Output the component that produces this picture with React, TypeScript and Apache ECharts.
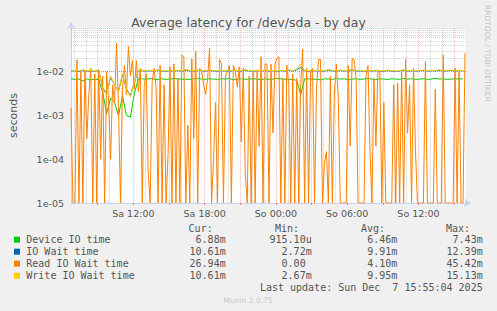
import { useEffect, useRef } from 'react';
import * as echarts from 'echarts';

// Time axis in hours since Saturday 00:00
const startHour = 6.75;
const endHour = 40;
const readStepHours = 1 / 6; // 10-minute samples
const otherStepHours = 1 / 3; // 20-minute samples

// Values in milliseconds
const readIoMs = [
  1.5, 0, 0, 19, 0, 10, 0, 11, 0.3, 3,
  12, 0, 9, 0, 11, 0.1, 8, 0, 10, 2,
  0.1, 5, 2, 45, 1.5, 0, 4, 14, 3, 38,
  8, 18, 4, 18, 3.5, 12, 0, 5, 9, 0.05,
  0, 6, 12, 4, 0, 14, 0, 5, 0, 0.12,
  13, 0, 15, 0, 7, 0, 24, 22, 0, 0.6,
  0, 20, 0.3, 30, 0, 12, 10, 5, 3, 7,
  35, 0, 0.1, 2, 0, 19, 15, 0, 8, 10,
  14, 0, 14, 10, 4.5, 13, 0.25, 12, 0.05, 0,
  8, 0, 10, 0, 11, 0.2, 22, 0, 15, 15,
  0, 15, 0.4, 15, 20, 22, 0, 7, 0, 14,
  5, 0, 9, 0, 7, 0, 5, 33, 0, 12,
  0, 10, 12, 0, 4, 19, 19, 0, 0.08, 0.15,
  0, 8, 0, 3, 15, 2.5, 0, 0, 0, 0,
  14, 0.2, 20, 19, 7, 0, 0, 0, 0, 8,
  14, 0.15, 0, 7, 0.2, 10, 10, 0, 2, 0,
  0, 0, 0, 5, 0, 5.5, 0, 11, 0, 19,
  0.4, 5, 0, 12, 0.15, 0, 0, 0, 0, 17,
  0, 0, 0, 0, 4, 0, 0, 0, 24, 0,
  0, 0, 0, 0, 12, 0, 10, 0, 0, 27,
];

const deviceIoMs = [
  6.9, 6.7, 6.8, 6.2, 6.9, 6.5, 6.8, 6.6,
  3.4, 1.1, 2.5, 2.0, 1.0, 2.8, 1.0, 0.92, 3.2,
  6.8, 6.9, 6.7, 7.0, 6.8, 6.6, 6.9, 6.7, 6.8, 7.0,
  6.9, 6.7, 6.8, 6.6, 6.9, 7.0, 6.8, 6.7, 6.9, 6.8,
  6.7, 6.9, 6.8, 7.0, 6.6, 6.8, 6.9, 6.7, 6.8, 6.9,
  6.8, 6.6, 6.9, 6.7, 6.8, 7.0, 6.9, 6.7, 6.8, 6.6,
  6.4, 3.0,
  6.8, 6.9, 6.7, 6.8, 6.5, 6.9, 6.8, 6.7, 7.0, 6.8,
  6.9, 6.6, 6.8, 6.9, 6.7, 6.8, 7.0, 6.8, 6.6, 6.9,
  6.8, 6.7, 6.9, 6.8, 6.7, 7.0, 6.8, 6.9, 6.7, 6.8,
  6.9, 6.7, 6.8, 7.1, 6.8, 6.9, 6.7, 6.8, 6.9, 6.8, 6.9,
];

const ioWaitMs = [
  10.2, 10.6, 10.1, 10.8, 10.3, 10.5, 10.1, 10.9,
  4.2, 3.2, 7.5, 5.0, 3.6, 8.5, 4.1, 2.8, 5.8,
  10.4, 10.7, 10.2, 10.6, 10.3, 10.8, 10.5, 10.1, 10.7, 10.4,
  10.6, 10.3, 11.0, 10.4, 10.2, 10.7, 10.5, 10.3, 10.8, 10.4,
  10.2, 10.6, 10.4, 10.1, 10.7, 10.5, 10.3, 10.9, 10.4, 10.2,
  10.6, 10.4, 10.7, 10.3, 10.5, 10.1, 10.6, 10.4, 10.8, 10.3,
  11.2, 12.4,
  10.5, 10.2, 10.7, 10.4, 10.6, 10.3, 11.0, 10.5, 10.2, 10.7,
  10.4, 10.6, 11.2, 10.3, 10.5, 10.1, 10.7, 10.4, 10.6, 10.3,
  10.2, 10.7, 10.4, 10.1, 10.5, 10.8, 10.3, 10.6, 10.2, 10.5,
  10.7, 10.3, 10.6, 10.4, 10.9, 10.2, 10.5, 10.7, 10.3, 10.6, 10.6,
];

const writeIoMs = [
  10.4, 10.8, 10.6, 11.0, 10.5, 10.7, 10.3, 11.2,
  4.0, 3.0, 8.0, 5.0, 3.5, 9.0, 4.0, 2.7, 6.0,
  10.6, 10.9, 10.4, 10.8, 10.5, 11.0, 10.7, 10.3, 10.9, 10.6,
  10.8, 10.5, 11.3, 10.6, 10.4, 10.9, 10.7, 10.5, 11.0, 10.6,
  10.4, 10.8, 10.6, 10.3, 10.9, 10.7, 10.5, 11.1, 10.6, 10.4,
  10.8, 10.6, 10.9, 10.5, 10.7, 10.3, 10.8, 10.6, 11.0, 10.5,
  11.5, 15.0,
  10.7, 10.4, 10.9, 10.6, 10.8, 10.5, 11.2, 10.7, 10.4, 10.9,
  10.6, 10.8, 11.4, 10.5, 10.7, 10.3, 10.9, 10.6, 10.8, 10.5,
  10.4, 10.9, 10.6, 10.3, 10.7, 11.0, 10.5, 10.8, 10.4, 10.7,
  10.9, 10.5, 10.8, 10.6, 11.1, 10.4, 10.7, 10.9, 10.5, 10.8, 10.6,
];

const seriesNames = ['Device IO time', 'IO Wait time', 'Read IO Wait time', 'Write IO Wait time'];
const seriesColors = ['#00cc00', '#0066b3', '#ff8000', '#ffcc00'];
const curValues = ['6.88m', '10.61m', '26.94m', '10.61m'];
const minValues = ['915.10u', '2.72m', '0.00', '2.67m'];
const avgValues = ['6.46m', '9.91m', '4.10m', '9.95m'];
const maxValues = ['7.43m', '12.39m', '45.42m', '15.13m'];
const columnHeaders = ['Cur:', 'Min:', 'Avg:', 'Max:'];

const xTickHours = [12, 18, 24, 30, 36];
const xTickLabels = ['Sa 12:00', 'Sa 18:00', 'So 00:00', 'So 06:00', 'So 12:00'];
const majorGridHours = [9, 12, 15, 18, 21, 24, 27, 30, 33, 36, 39];
const minorGridHours = [7, 8, 10, 11, 13, 14, 16, 17, 19, 20, 22, 23, 25, 26, 28, 29, 31, 32, 34, 35, 37, 38];

const yTickValues = [1e-5, 1e-4, 1e-3, 1e-2];
const yTickLabels = ['1e-05', '1e-04', '1e-03', '1e-02'];
const yMajorGrid = [1e-5, 1e-4, 1e-3, 1e-2, 1e-1];
const yMinorMultipliers = [2, 3, 4, 5, 6, 7, 8, 9];
const yMinorDecades = [1e-5, 1e-4, 1e-3, 1e-2];

const lastUpdate = 'Last update: Sun Dec  7 15:55:04 2025';
const footer = 'Munin 2.0.75';
const sideText = 'RRDTOOL / TOBI OETIKER';
const titleText = 'Average latency for /dev/sda - by day';

const MONO = '"DejaVu Sans Mono", monospace';
const SANS = '"DejaVu Sans", sans-serif';

function toPairs(values: number[], step: number) {
  return values.map((v, i) => [startHour + i * step, Math.max(v / 1000, 1e-5)]);
}

export default function App() {
  const ref = useRef<HTMLDivElement>(null);

  useEffect(() => {
    if (!ref.current) return;
    const chart = echarts.init(ref.current, undefined, { renderer: 'svg' });

    const minorGray = { color: 'rgba(160,160,160,0.45)', type: [1, 1] as any, width: 1 };
    const majorRed = { color: 'rgba(235,110,110,0.45)', type: [1, 1] as any, width: 1 };

    const gridLines: any[] = [];
    minorGridHours.forEach((h) => gridLines.push({ xAxis: h, lineStyle: minorGray }));
    majorGridHours.forEach((h) => gridLines.push({ xAxis: h, lineStyle: majorRed }));
    yMinorDecades.forEach((d) =>
      yMinorMultipliers.forEach((m) => gridLines.push({ yAxis: d * m, lineStyle: minorGray }))
    );
    yMajorGrid.forEach((v) => gridLines.push({ yAxis: v, lineStyle: majorRed }));

    const rowY = [239.7, 251.7, 263.7, 275.7];
    const headerY = 228.3;
    const colRight = [225.7, 311.7, 397.3, 482.7];
    const headerRight = [212.7, 299, 385, 470];
    const textColor = '#555555';

    const fmt = (s: string) => (/[0-9]$/.test(s) ? s + '\u00a0' : s);

    const graphics: any[] = [];
    columnHeaders.forEach((h, c) => {
      graphics.push({
        type: 'text',
        style: { text: h, x: headerRight[c], y: headerY, font: `10px ${MONO}`, fill: textColor, textAlign: 'right', textVerticalAlign: 'middle' },
      });
    });
    seriesNames.forEach((name, r) => {
      graphics.push({
        type: 'rect',
        shape: { x: 14, y: rowY[r] - 3, width: 6, height: 6 },
        style: { fill: seriesColors[r] },
      });
      graphics.push({
        type: 'text',
        style: { text: name, x: 26.3, y: rowY[r], font: `10px ${MONO}`, fill: textColor, textAlign: 'left', textVerticalAlign: 'middle' },
      });
      [curValues, minValues, avgValues, maxValues].forEach((col, c) => {
        graphics.push({
          type: 'text',
          style: { text: fmt(col[r]), x: colRight[c], y: rowY[r], font: `10px ${MONO}`, fill: textColor, textAlign: 'right', textVerticalAlign: 'middle' },
        });
      });
    });
    graphics.push({
      type: 'text',
      style: { text: lastUpdate, x: 482.7, y: 287.5, font: `10px ${MONO}`, fill: textColor, textAlign: 'right', textVerticalAlign: 'middle' },
    });
    graphics.push({
      type: 'text',
      style: { text: footer, x: 248, y: 300, font: `7.5px ${SANS}`, fill: '#c8c8c8', textAlign: 'center', textVerticalAlign: 'middle' },
    });
    graphics.push({
      type: 'text',
      x: 487.5,
      y: 5,
      rotation: -Math.PI / 2,
      style: { text: sideText, x: 0, y: 0, font: `7.5px ${SANS}`, fill: '#c4c4c4', textAlign: 'left', textVerticalAlign: 'middle' },
    });

    const lineSeries = (idx: number, data: number[][]) => ({
      type: 'line',
      name: seriesNames[idx],
      data,
      showSymbol: false,
      symbol: 'none',
      clip: true,
      lineStyle: { color: seriesColors[idx], width: 1 },
      itemStyle: { color: seriesColors[idx] },
      silent: true,
    });

    chart.setOption({
      animation: false,
      backgroundColor: '#f0f0f0',
      title: {
        text: titleText,
        left: 'center',
        top: 11,
        textStyle: { fontFamily: SANS, fontSize: 12.5, fontWeight: 'normal', color: '#555555' },
      },
      grid: {
        left: 67,
        top: 28,
        width: 399,
        height: 175,
        show: true,
        backgroundColor: '#ffffff',
        borderWidth: 0,
      },
      xAxis: {
        type: 'value',
        min: startHour,
        max: endHour,
        axisLine: {
          show: true,
          lineStyle: { color: '#c8d0f4', width: 1 },
          symbol: ['none', 'arrow'],
          symbolSize: [6, 7],
          symbolOffset: [0, 5],
        },
        axisTick: {
          show: true,
          customValues: majorGridHours,
          length: 2,
          lineStyle: { color: 'rgba(240,90,90,0.7)' },
        },
        axisLabel: {
          customValues: xTickHours,
          formatter: (v: number) => {
            const k = xTickHours.findIndex((h) => Math.abs(h - v) < 1e-6);
            return k >= 0 ? xTickLabels[k] : '';
          },
          fontFamily: SANS,
          fontSize: 9.5,
          color: '#555555',
          margin: 5,
        },
        splitLine: { show: false },
      },
      yAxis: {
        type: 'log',
        logBase: 10,
        min: 1e-5,
        max: 1e-1,
        name: 'seconds',
        nameLocation: 'middle',
        nameRotate: 90,
        nameGap: 52,
        nameTextStyle: { fontFamily: SANS, fontSize: 11, color: '#555555' },
        axisLine: {
          show: true,
          lineStyle: { color: '#c8d0f4', width: 1 },
          symbol: ['none', 'arrow'],
          symbolSize: [6, 7],
          symbolOffset: [0, 6],
        },
        axisTick: { show: false },
        axisLabel: {
          showMaxLabel: false,
          formatter: (v: number) => {
            const k = yTickValues.findIndex((t) => Math.abs(Math.log10(t) - Math.log10(v)) < 0.01);
            return k >= 0 ? yTickLabels[k] : '';
          },
          fontFamily: SANS,
          fontSize: 9.5,
          color: '#555555',
          margin: 7,
        },
        splitLine: { show: false },
      },
      graphic: graphics,
      series: [
        {
          type: 'line',
          data: [],
          silent: true,
          markLine: {
            silent: true,
            symbol: ['none', 'none'],
            label: { show: false },
            animation: false,
            data: gridLines,
          },
        },
        lineSeries(0, toPairs(deviceIoMs, otherStepHours)),
        lineSeries(1, toPairs(ioWaitMs, otherStepHours)),
        lineSeries(2, toPairs(readIoMs, readStepHours)),
        lineSeries(3, toPairs(writeIoMs, otherStepHours)),
      ],
    });

    return () => chart.dispose();
  }, []);

  return <div ref={ref} style={{ position: 'fixed', left: 0, top: 0, width: 497, height: 311 }} />;
}
